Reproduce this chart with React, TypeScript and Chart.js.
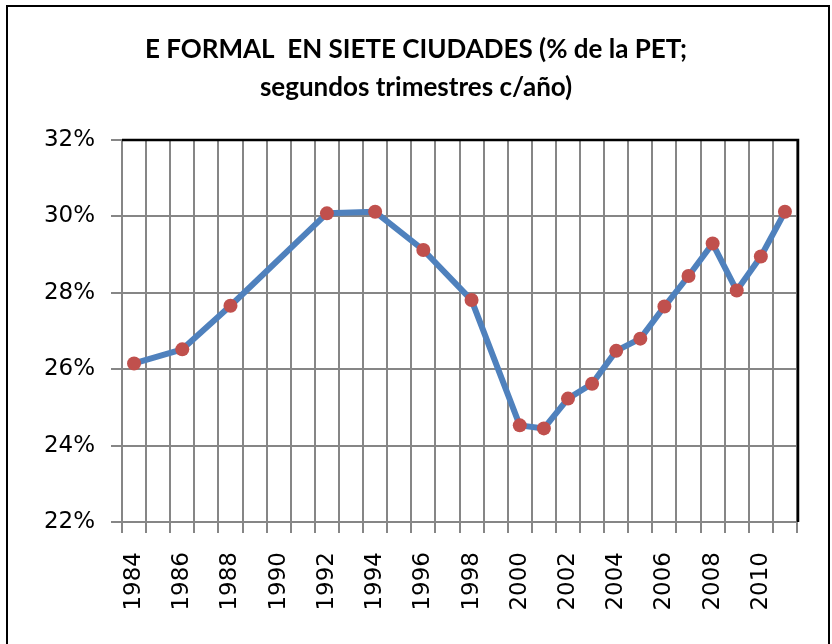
import React, { useEffect, useRef } from "react";
import { Chart, registerables } from "chart.js";

Chart.register(...registerables);

const years: string[] = [
  "1984", "1985", "1986", "1987", "1988", "1989", "1990", "1991", "1992", "1993",
  "1994", "1995", "1996", "1997", "1998", "1999", "2000", "2001", "2002", "2003",
  "2004", "2005", "2006", "2007", "2008", "2009", "2010", "2011",
];

const formalShare: (number | null)[] = [
  26.15, null, 26.52, null, 27.66, null, null, null, 30.08, null,
  30.12, null, 29.12, null, 27.81, null, 24.53, 24.45, 25.23, 25.62,
  26.48, 26.8, 27.64, 28.44, 29.29, 28.06, 28.95, 30.12,
];

const titleLines: string[] = [
  "E FORMAL  EN SIETE CIUDADES (% de la PET;",
  "segundos trimestres c/año)",
];

const yMin = 22;
const yMax = 32;
const yStep = 2;

const framePlugin = {
  id: "frameAndBorder",
  beforeDraw(chart: any) {
    const ctx = chart.ctx;
    ctx.save();
    ctx.fillStyle = "#ffffff";
    ctx.fillRect(0, 0, chart.width, chart.height);
    ctx.strokeStyle = "#000000";
    ctx.lineWidth = 2;
    ctx.strokeRect(7, 6, 822, 720);
    ctx.restore();
  },
  afterDraw(chart: any) {
    const { ctx, chartArea } = chart;
    ctx.save();
    ctx.strokeStyle = "#000000";
    ctx.lineWidth = 2.5;
    ctx.beginPath();
    ctx.moveTo(chartArea.left, chartArea.top);
    ctx.lineTo(chartArea.right + 1, chartArea.top);
    ctx.lineTo(chartArea.right + 1, chartArea.bottom);
    ctx.stroke();
    ctx.restore();
  },
};

export default function App() {
  const canvasRef = useRef<HTMLCanvasElement | null>(null);

  useEffect(() => {
    const canvas = canvasRef.current;
    if (!canvas) return;
    const chart = new Chart(canvas, {
      type: "line",
      data: {
        labels: years,
        datasets: [
          {
            data: formalShare,
            borderColor: "#4F81BD",
            borderWidth: 6,
            borderJoinStyle: "round",
            borderCapStyle: "round",
            pointBackgroundColor: "#C0504D",
            pointBorderColor: "#C0504D",
            pointBorderWidth: 0,
            pointRadius: 7,
            pointHoverRadius: 7,
            spanGaps: true,
            tension: 0,
          },
        ],
      },
      options: {
        responsive: false,
        animation: false,
        events: [],
        layout: { padding: { left: 25, right: 25, top: 0, bottom: 0 } },
        plugins: {
          legend: { display: false },
          tooltip: { enabled: false },
          title: {
            display: true,
            text: titleLines,
            color: "#000000",
            font: { family: "Lato", size: 26, weight: "bold", lineHeight: 38 / 26 },
            padding: { top: 31, bottom: 33 },
          },
        },
        scales: {
          x: {
            type: "category",
            offset: true,
            grid: {
              offset: true,
              color: "#868686",
              lineWidth: 2,
              drawTicks: true,
              tickLength: 11,
              tickColor: "#868686",
            },
            border: { display: true, color: "#868686", width: 2 },
            ticks: {
              autoSkip: false,
              minRotation: 90,
              maxRotation: 90,
              padding: 19,
              color: "#000000",
              font: { family: "DejaVu Sans", size: 23 },
              callback: (_v: any, i: number) => (i % 2 === 0 ? years[i] : ""),
            },
            afterFit: (scale: any) => {
              scale.height = 122;
            },
          },
          y: {
            min: yMin,
            max: yMax,
            grid: {
              color: "#868686",
              lineWidth: 2,
              drawTicks: true,
              tickLength: 11,
              tickColor: "#868686",
            },
            border: { display: true, color: "#868686", width: 2 },
            ticks: {
              stepSize: yStep,
              padding: 16,
              color: "#000000",
              font: { family: "DejaVu Sans", size: 23 },
              callback: (v: any) => `${v}%`,
            },
            afterFit: (scale: any) => {
              scale.width = 97;
            },
          },
        },
      },
      plugins: [framePlugin],
    });
    return () => chart.destroy();
  }, []);

  return (
    <div style={{ position: "fixed", left: 0, top: 0, width: 832, height: 644 }}>
      <canvas ref={canvasRef} width={832} height={644} style={{ display: "block" }} />
    </div>
  );
}
